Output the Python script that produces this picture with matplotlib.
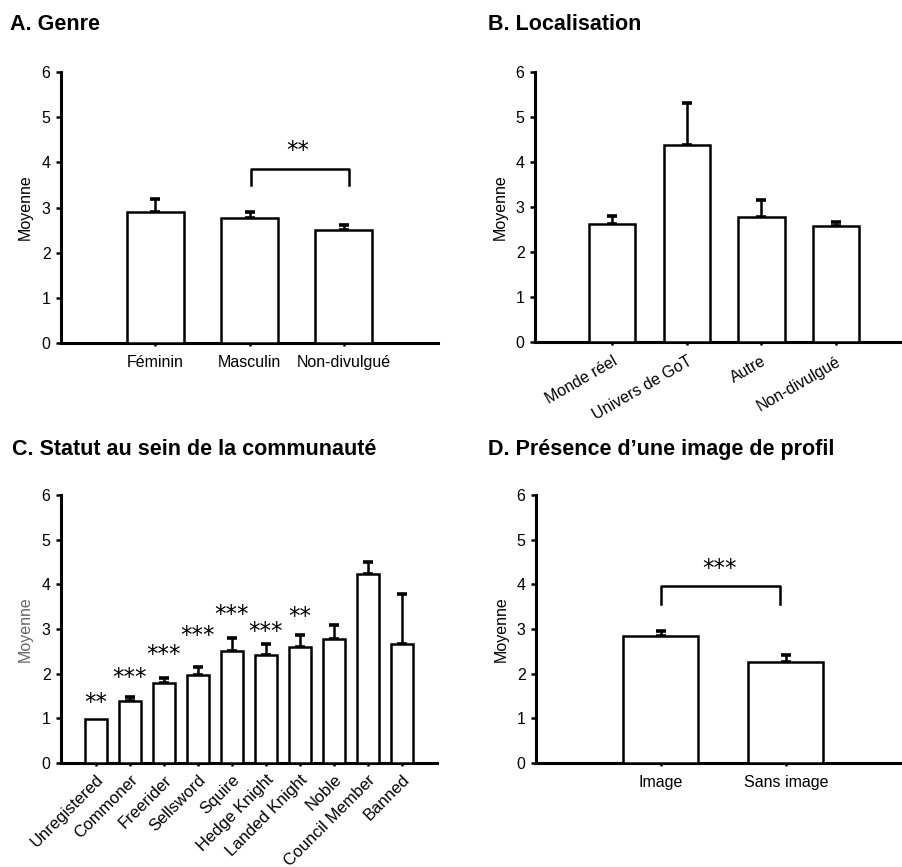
import matplotlib
matplotlib.use("Agg")
import matplotlib.pyplot as plt
import numpy as np

plt.rcParams['font.family'] = ['Liberation Sans', 'DejaVu Sans']

# A. Genre
genreLabels = ["Féminin", "Masculin", "Non-divulgué"]
genreMeans = [2.90, 2.77, 2.51]
genreErr = [0.28, 0.13, 0.11]

# B. Localisation
locLabels = ["Monde réel", "Univers de GoT", "Autre", "Non-divulgué"]
locMeans = [2.63, 4.37, 2.78, 2.57]
locErr = [0.18, 0.94, 0.38, 0.10]

# C. Statut au sein de la communauté
statusLabels = ["Unregistered", "Commoner", "Freerider", "Sellsword", "Squire",
                "Hedge Knight", "Landed Knight", "Noble", "Council Member", "Banned"]
statusMeans = [0.99, 1.39, 1.79, 1.98, 2.50, 2.42, 2.60, 2.78, 4.23, 2.67]
statusErr = [0.0, 0.08, 0.12, 0.18, 0.30, 0.25, 0.26, 0.31, 0.26, 1.12]
statusStars = ["**", "***", "***", "***", "***", "***", "**", "", "", ""]
statusStarY = [1.48, 2.05, 2.56, 2.99, 3.47, 3.07, 3.41, 0, 0, 0]

# D. Présence d'une image de profil
imgLabels = ["Image", "Sans image"]
imgMeans = [2.84, 2.26]
imgErr = [0.11, 0.15]

LW = 1.8
STARSIZE = 16.5


def drawPanel(rect, labels, means, errs, xlim, width, rot=0, labelsize=11.5, ylabcolor='black', xpad=6):
    ax = fig.add_axes(rect)
    x = np.arange(len(labels))
    ax.bar(x, means, width=width, color='white', edgecolor='black', linewidth=LW, zorder=3)
    errs = np.array(errs)
    m = errs > 0
    ax.errorbar(x[m], np.array(means)[m], yerr=[np.zeros(m.sum()), errs[m]], fmt='none',
                ecolor='black', elinewidth=LW, capsize=3.5, capthick=2.6, zorder=2)
    ax.set_xlim(xlim)
    ax.set_ylim(0, 6)
    ax.set_yticks(range(7))
    ax.set_xticks(x)
    if rot:
        ax.set_xticklabels(labels, rotation=rot, ha='right', rotation_mode='anchor', fontsize=labelsize)
    else:
        ax.set_xticklabels(labels, fontsize=labelsize)
    ax.tick_params(axis='y', direction='out', length=3.5, width=LW, labelsize=11.5, pad=4)
    ax.tick_params(axis='x', direction='out', length=2.5, width=LW, pad=xpad)
    for s in ['top', 'right']:
        ax.spines[s].set_visible(False)
    ax.spines['left'].set_linewidth(2.2)
    ax.spines['bottom'].set_linewidth(2.2)
    ax.set_ylabel("Moyenne", fontsize=11.5, color=ylabcolor, labelpad=6)
    ax.patch.set_alpha(0)
    return ax


def putStars(ax, stars, xs, ys):
    # ys is where the middle of the asterisks should sit
    ax.annotate(stars, xy=(xs, ys), xytext=(0, -9), textcoords='offset points',
                ha='center', va='baseline', fontsize=STARSIZE, family='DejaVu Sans')


def bracket(ax, x0, x1, ylo, yhi, stars, xs, ys):
    ax.plot([x0, x0, x1, x1], [ylo, yhi, yhi, ylo], color='black', lw=LW, clip_on=False)
    putStars(ax, stars, xs, ys)


fig = plt.figure(figsize=(9.02, 8.67), dpi=100)

axA = drawPanel([61/902, 1-343/867, 377/902, 271/867], genreLabels, genreMeans, genreErr,
                (-1.0, 3.0), 0.61)
bracket(axA, 1.02, 2.06, 3.49, 3.86, "**", 1.51, 4.40)

axB = drawPanel([535/902, 1-342/867, 367/902, 270/867], locLabels, locMeans, locErr,
                (-1.03, 3.88), 0.62, rot=30)

axC = drawPanel([61/902, 1-763/867, 376/902, 268/867], statusLabels, statusMeans, statusErr,
                (-1.03, 10.03), 0.65, rot=45, labelsize=12, ylabcolor='#666666', xpad=4)
for i, (s, y) in enumerate(zip(statusStars, statusStarY)):
    if s:
        putStars(axC, s, i, y)

axD = drawPanel([536/902, 1-763/867, 366/902, 268/867], imgLabels, imgMeans, imgErr,
                (-1.0, 1.93), 0.6)
bracket(axD, 0.0, 0.955, 3.57, 3.96, "***", 0.47, 4.49)

titleFont = dict(fontsize=15.5, fontweight='bold', va='baseline', ha='left')
fig.text(10/902, 1-30/867, "A. Genre", **titleFont)
fig.text(488/902, 1-30/867, "B. Localisation", **titleFont)
fig.text(12/902, 1-455/867, "C. Statut au sein de la communauté", **titleFont)
fig.text(488/902, 1-455/867, "D. Présence d\u2019une image de profil", **titleFont)

fig.savefig("out.png", dpi=100)
